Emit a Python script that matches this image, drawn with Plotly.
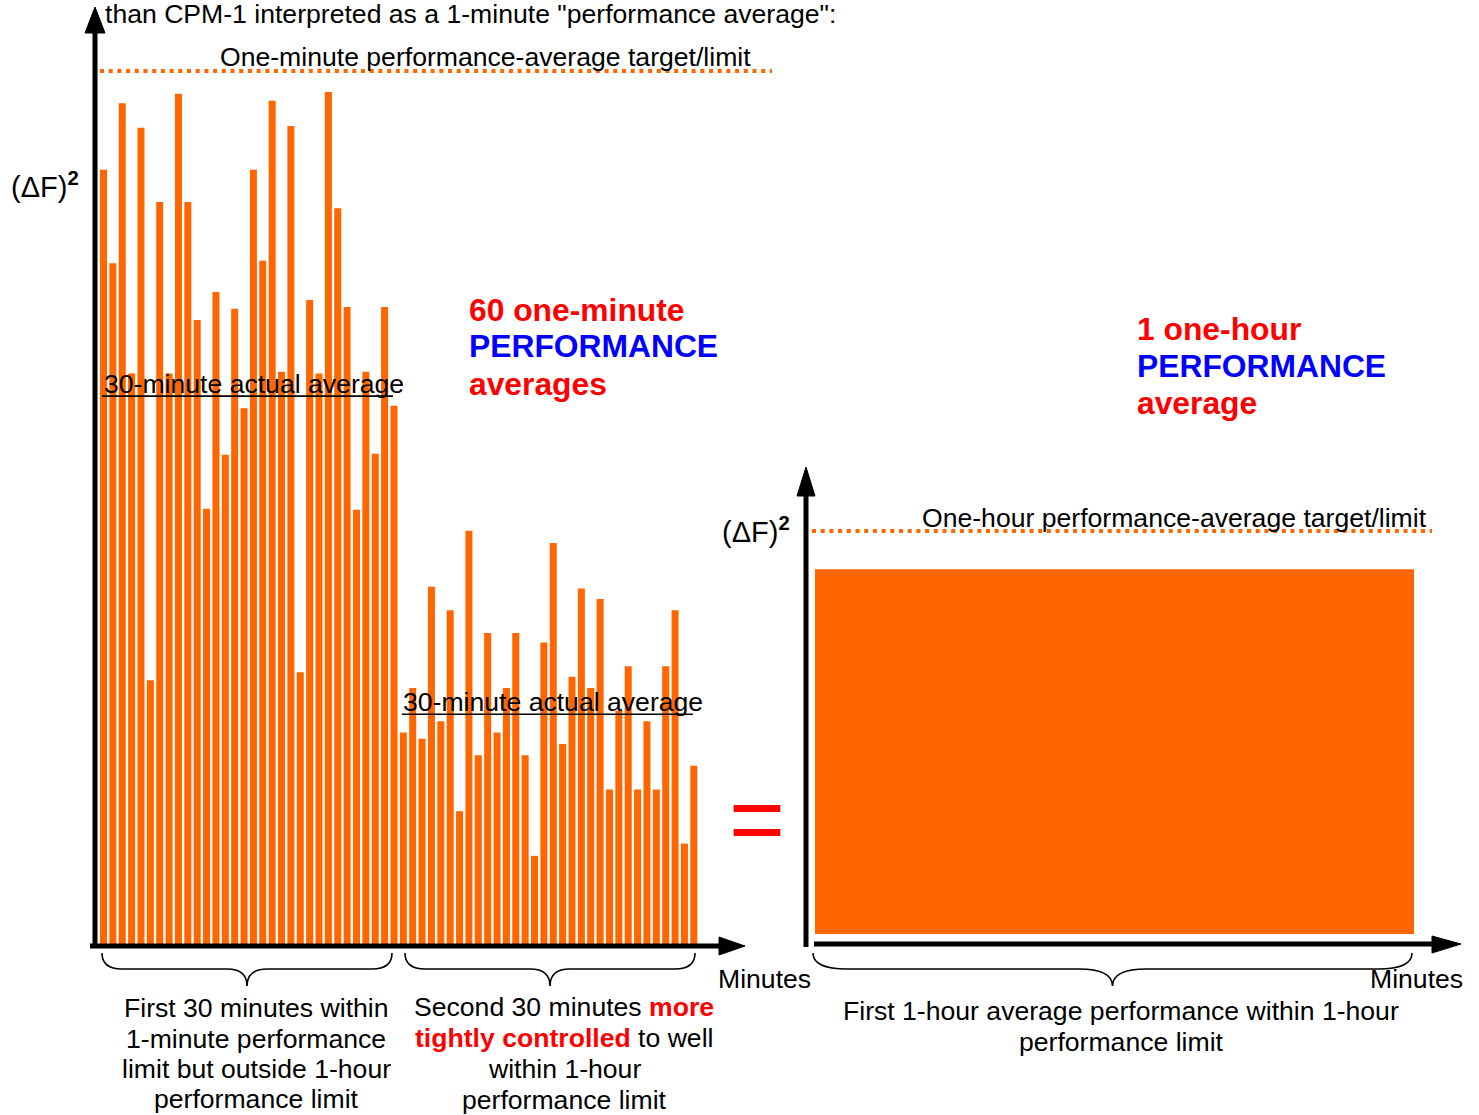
import plotly.graph_objects as go

# ---------------- data ----------------
minutes = list(range(1, 65))
one_minute_values = [
    88.7, 78.0, 96.3, 65.4, 93.5, 30.3, 85.0, 65.4, 97.4, 85.0, 71.5, 49.9, 74.7, 56.1, 72.8, 61.4,
    88.7, 78.3, 96.6, 65.6, 93.7, 31.2, 73.8, 65.4, 97.6, 84.3, 73.0, 49.8, 65.6, 56.2, 73.0, 61.7,
    24.3, 29.4, 23.6, 41.0, 25.6, 38.3, 15.3, 47.4, 21.7, 35.7, 24.3, 29.4, 35.7, 21.7, 10.2, 34.6,
    46.0, 23.0, 30.7, 40.8, 29.4, 39.6, 17.8, 26.8, 31.9, 17.8, 25.6, 17.8, 31.9, 38.3, 11.6, 20.5,
]
half_hour_first = [1, 33]
half_hour_last = [32, 64]
half_hour_avg = [62.8, 26.4]
half_hour_label = "30-minute actual average"
one_minute_limit = 100
one_minute_limit_label = "One-minute performance-average target/limit"

hour_index = [0]
one_hour_average = [90.5]
one_hour_limit = 100
one_hour_limit_label = "One-hour performance-average target/limit"

# ---------------- geometry / style ----------------
W, H = 1479, 1115
FONT = "Liberation Sans, Arial, sans-serif"
ORANGE = "#FF6600"
RED = "#FF0000"
BLUE = "#0000FF"
TXT = 26.6
BOLD = 31.8

# left chart pixel mapping
L_X0, L_STEP, L_BASE, L_UNIT = 103.5, 9.37, 945.0, 8.74
def lx(px):
    return 1 + (px - L_X0) / L_STEP
# right chart pixel mapping
R_XC, R_W, R_BASE, R_UNIT = 1114.5, 599.0, 934.0, 4.03
def rx(px):
    return (px - R_XC) / R_W

fig = go.Figure()

# one-minute bars
fig.add_trace(go.Bar(x=minutes, y=one_minute_values, width=0.75,
                     marker=dict(color=ORANGE, line=dict(width=0)),
                     xaxis="x", yaxis="y", showlegend=False, hoverinfo="skip"))
# one-minute limit (dotted)
fig.add_trace(go.Scatter(x=[lx(100), lx(772)], y=[one_minute_limit] * 2, mode="lines",
                         line=dict(color=ORANGE, width=4, dash="4px,4.7px"),
                         xaxis="x", yaxis="y", showlegend=False, hoverinfo="skip"))
# 30-minute averages
for f, l, a in zip(half_hour_first, half_hour_last, half_hour_avg):
    fig.add_trace(go.Scatter(x=[f - 0.15, l - 0.1], y=[a, a], mode="lines",
                             line=dict(color="black", width=1.6),
                             xaxis="x", yaxis="y", showlegend=False, hoverinfo="skip"))

# one-hour bar
fig.add_trace(go.Bar(x=hour_index, y=one_hour_average, width=1.0,
                     marker=dict(color=ORANGE, line=dict(width=0)),
                     xaxis="x2", yaxis="y2", showlegend=False, hoverinfo="skip"))
fig.add_trace(go.Scatter(x=[rx(812), rx(1432)], y=[one_hour_limit] * 2, mode="lines",
                         line=dict(color=ORANGE, width=4, dash="4px,4.7px"),
                         xaxis="x2", yaxis="y2", showlegend=False, hoverinfo="skip"))

# overlay pixel axes (for decorations)
fig.add_trace(go.Scatter(x=[None], y=[None], xaxis="x3", yaxis="y3",
                         showlegend=False, hoverinfo="skip"))

ax_common = dict(visible=False, domain=[0, 1], fixedrange=True)
fig.update_layout(
    width=W, height=H,
    margin=dict(l=0, r=0, t=0, b=0),
    paper_bgcolor="white", plot_bgcolor="rgba(0,0,0,0)",
    font=dict(family=FONT, color="black", size=TXT),
    xaxis=dict(**ax_common, range=[lx(0), lx(W)], anchor="y"),
    yaxis=dict(**ax_common, range=[(L_BASE - H) / L_UNIT, L_BASE / L_UNIT], anchor="x"),
    xaxis2=dict(**ax_common, range=[rx(0), rx(W)], anchor="y2"),
    yaxis2=dict(**ax_common, range=[(R_BASE - H) / R_UNIT, R_BASE / R_UNIT], anchor="x2"),
    xaxis3=dict(**ax_common, range=[0, W], anchor="y3"),
    yaxis3=dict(**ax_common, range=[H, 0], anchor="x3"),
)

shapes = []
def line(x0, y0, x1, y1, w=5):
    shapes.append(dict(type="line", xref="x3", yref="y3", x0=x0, y0=y0, x1=x1, y1=y1,
                       line=dict(color="black", width=w), layer="above"))
def tri(path):
    shapes.append(dict(type="path", xref="x3", yref="y3", path=path,
                       fillcolor="black", line=dict(color="black", width=1), layer="above"))
def brace(x0, x1, curl, ytop=953, ymid=969, ytip=986):
    xm = (x0 + x1) / 2
    p = (f"M {x0} {ytop} Q {x0} {ymid} {x0 + curl} {ymid} L {xm - curl} {ymid} "
         f"Q {xm} {ymid} {xm} {ytip} Q {xm} {ymid} {xm + curl} {ymid} "
         f"L {x1 - curl} {ymid} Q {x1} {ymid} {x1} {ytop}")
    shapes.append(dict(type="path", xref="x3", yref="y3", path=p,
                       line=dict(color="black", width=1.6), layer="above"))

# left axes
line(95, 948, 95, 30)
tri("M 95 7 L 85 33 L 105 33 Z")
line(90, 946, 722, 946)
tri("M 745 946 L 719 937 L 719 955 Z")
# right axes
line(806, 947, 806, 492)
tri("M 806 467 L 797 496 L 815 496 Z")
line(814, 944, 1436, 944)
tri("M 1461 944 L 1432 936 L 1432 953 Z")
# braces
brace(102, 392, 20)
brace(405, 695, 20)
brace(813, 1412, 34)
fig.update_layout(shapes=shapes)

ann = []
def txt(x, y, s, size=TXT, color="black", xa="center", ya="middle"):
    ann.append(dict(x=x, y=y, xref="x3", yref="y3", text=s, showarrow=False,
                    xanchor=xa, yanchor=ya, font=dict(size=size, color=color, family=FONT)))

txt(103, 14, 'than CPM-1 interpreted as a 1-minute "performance average":', xa="left")
txt(485, 57, one_minute_limit_label)
txt(1174, 518, one_hour_limit_label)
txt(45, 185, "(ΔF)<sup><b>2</b></sup>", size=29)
txt(756, 530, "(ΔF)<sup><b>2</b></sup>", size=29)
txt(764, 979, "Minutes")
txt(1416, 979, "Minutes")
txt(757, 818, "=", size=96, color=RED)

for y, s, c in [(310, "60 one-minute", RED), (346, "PERFORMANCE", BLUE), (384, "averages", RED)]:
    txt(467, y, f"<b>{s}</b>", size=BOLD, color=c, xa="left")
for y, s, c in [(329, "1 one-hour", RED), (366, "PERFORMANCE", BLUE), (403, "average", RED)]:
    txt(1135, y, f"<b>{s}</b>", size=BOLD, color=c, xa="left")

for y, s in zip([1008, 1039, 1069, 1099],
                ["First 30 minutes within", "1-minute performance",
                 "limit but outside 1-hour", "performance limit"]):
    txt(256, y, s)
for y, s in zip([1007, 1038, 1069, 1100],
                [f"Second 30 minutes <span style='color:{RED}'><b>more</b></span>",
                 f"<span style='color:{RED}'><b>tightly controlled</b></span> to well",
                 "within 1-hour", "performance limit"]):
    txt(564, y, s)
for y, s in zip([1011, 1042], ["First 1-hour average performance within 1-hour", "performance limit"]):
    txt(1121, y, s)

# 30-minute average labels anchored on the data
for f, l, a in zip(half_hour_first, half_hour_last, half_hour_avg):
    ann.append(dict(x=(f - 0.15 + l - 0.1) / 2, y=a, xref="x", yref="y", text=half_hour_label,
                    showarrow=False, xanchor="center", yanchor="middle", xshift=6, yshift=12,
                    font=dict(size=TXT, color="black", family=FONT)))

fig.update_layout(annotations=ann)

fig.write_html("out.html", config={"staticPlot": True},
               post_script="document.body.style.margin='0';")
